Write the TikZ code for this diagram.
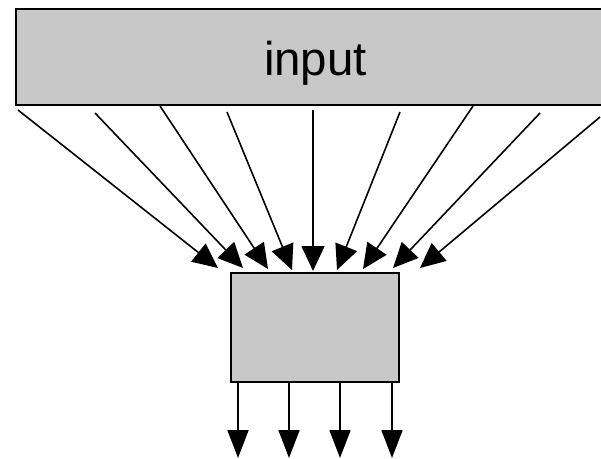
\documentclass[tikz,border=0pt]{standalone}
\usepackage{fontspec}
\setmainfont{Liberation Sans}
\usetikzlibrary{arrows.meta}
\definecolor{boxgray}{RGB}{200,200,200}
\begin{document}
\begin{tikzpicture}[x=0.02cm,y=-0.02cm,
  graybox/.style={draw=black,fill=boxgray,line width=1.2pt,inner sep=0pt,anchor=north west},
  feed/.style={draw=black,line width=0.9pt,-{Triangle[length=0.5cm,width=0.46cm]}},
  outarrow/.style={draw=black,line width=1pt,-{Triangle[length=0.56cm,width=0.42cm]}}]
\useasboundingbox (0,0) rectangle (601,458);
\fill[white] (0,0) rectangle (601,458);
\node[graybox,minimum width=12.02cm,minimum height=1.92cm] (input) at (15,8) {};
\node[anchor=base,inner sep=0pt,font=\fontsize{27}{32}\selectfont] (inputtext) at (315.5,75) {input};
\node[graybox,minimum width=3.36cm,minimum height=2.18cm] (proc) at (230,272) {};
% input feed start points
\coordinate (s1) at (18,110);
\coordinate (s2) at (95,113);
\coordinate (s3) at (160,106);
\coordinate (s4) at (227,112);
\coordinate (s5) at (313,110);
\coordinate (s6) at (400,112);
\coordinate (s7) at (473,106);
\coordinate (s8) at (540,113);
\coordinate (s9) at (600,117);
% feed tips
\coordinate (t1) at (218,268);
\coordinate (t2) at (243,268);
\coordinate (t3) at (268,269);
\coordinate (t4) at (292,270);
\coordinate (t5) at (313,271);
\coordinate (t6) at (337,270);
\coordinate (t7) at (363,269);
\coordinate (t8) at (393,268);
\coordinate (t9) at (420,268);
\foreach \i in {1,...,9} \draw[feed] (s\i) -- (t\i);
% outputs
\foreach \i/\x in {1/238,2/289,3/340,4/392} {
  \coordinate (o\i) at (\x,381);
  \coordinate (e\i) at (\x,458);
  \draw[outarrow] (o\i) -- (e\i);
}
\end{tikzpicture}
\end{document}
